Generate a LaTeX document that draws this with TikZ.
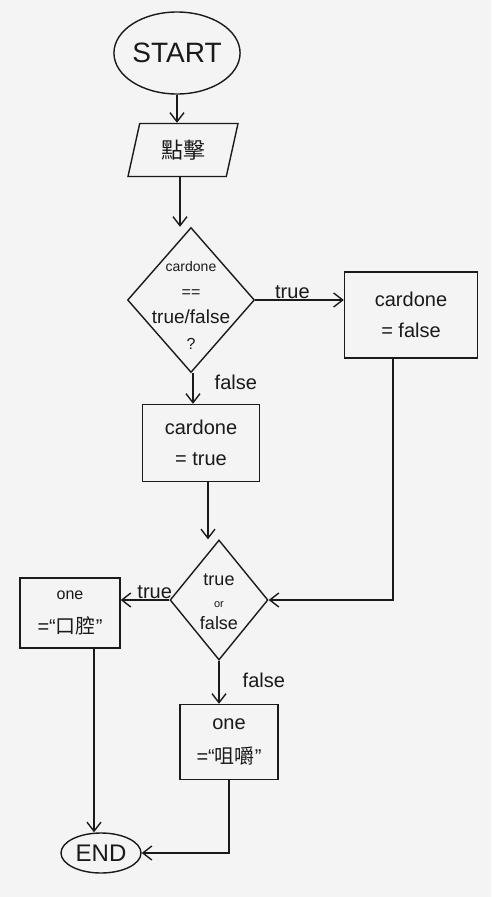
\documentclass[tikz,border=0pt]{standalone}
\usepackage{fontspec}
\setmainfont{Liberation Sans}
\newfontfamily\cjk{Noto Sans CJK TC}
\usetikzlibrary{shapes.geometric,arrows.meta}
\definecolor{bg}{HTML}{F4F4F4}
\definecolor{ink}{HTML}{1A1A1A}
\begin{document}
\begin{tikzpicture}[x=1pt,y=-1pt,line width=1.4pt,draw=ink,text=ink,
  box/.style={draw,rectangle,inner sep=0pt,align=center},
  dia/.style={draw,diamond,inner sep=0pt},
  term/.style={draw,ellipse,inner sep=0pt},
  lbl/.style={font=\fontsize{20}{23}\selectfont,inner sep=1pt},
  arr/.style={-{Straight Barb[length=9pt,width=14pt,line width=1.4pt]}}]
\fill[bg] (0,0) rectangle (491,897);
\useasboundingbox (0,0) rectangle (491,897);

\node[term,minimum width=110pt,minimum height=82pt,font=\fontsize{28}{32}\selectfont] (start) at (177,53) {START};
\node[draw,trapezium,trapezium left angle=60,trapezium right angle=120,trapezium stretches body,
      minimum width=110pt,minimum height=53pt,inner sep=0pt,font=\fontsize{22}{26}\selectfont\cjk] (click) at (183,150) {點擊};
\node[dia,minimum width=127pt,minimum height=145pt] (d1) at (191,300) {};
\node[align=center,inner sep=0pt,font=\fontsize{20}{26}\selectfont] (d1t) at (191,305)
  {\fontsize{14}{26}\selectfont cardone\\\fontsize{16}{26}\selectfont ==\\\fontsize{19}{26}\selectfont true/false\\\fontsize{16}{26}\selectfont ?};
\node[box,minimum width=133pt,minimum height=86pt,font=\fontsize{20}{31}\selectfont] (cf) at (411,315) {cardone\\= false};
\node[box,minimum width=117pt,minimum height=77pt,font=\fontsize{20}{31}\selectfont] (ct) at (201,443) {cardone\\= true};
\node[dia,minimum width=98pt,minimum height=120pt] (d2) at (219,600) {};
\node[align=center,inner sep=0pt,font=\fontsize{18}{22}\selectfont] (d2t) at (219,602)
  {true\\\fontsize{11}{22}\selectfont or\\\fontsize{18}{22}\selectfont false};
\node[box,minimum width=100pt,minimum height=70pt,font=\fontsize{20}{34}\selectfont] (oral) at (70,613)
  {\fontsize{16}{34}\selectfont one\\\fontsize{20}{34}\selectfont =“{\cjk 口腔}”};
\node[box,minimum width=98pt,minimum height=75pt,font=\fontsize{20}{34}\selectfont] (chew) at (229,742)
  {one\\=“{\cjk 咀嚼}”};
\node[term,minimum width=80pt,minimum height=40pt,font=\fontsize{24}{28}\selectfont] (end) at (101,853) {END};

\draw[arr] (start.south) -- (start.south |- click.north);
\draw[arr] (180,0 |- click.south) -- (180,0 |- d1.north);
\draw[arr] (d1.east) -- node[lbl,above,pos=0.42] {true} (cf.west |- d1.east);
\draw[arr] (193,0 |- d1.south) -- node[lbl,right,pos=0.3,xshift=20pt] {false} (193,0 |- ct.north);
\draw[arr] (208,0 |- ct.south) -- (208,0 |- d2.north);
\draw[arr] (393,0 |- cf.south) |- (d2.east);
\draw[arr] (d2.west) -- node[lbl,above,pos=0.3] {true} (oral.east |- d2.west);
\draw[arr] (d2.south) -- node[lbl,right,pos=0.45,xshift=22pt] {false} (d2.south |- chew.north);
\draw[arr] (94,0 |- oral.south) -- (94,0 |- end.north);
\draw[arr] (chew.south) |- (end.east);
\end{tikzpicture}
\end{document}
